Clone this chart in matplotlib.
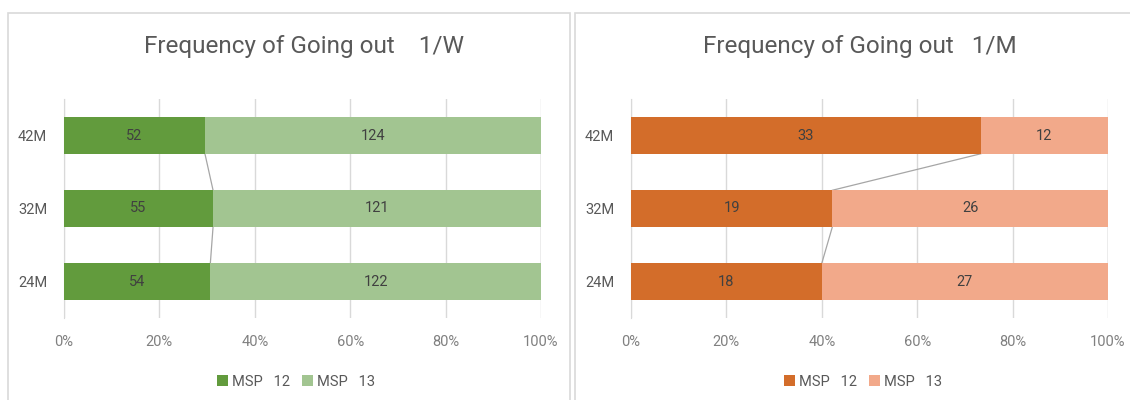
import numpy as np
import matplotlib
matplotlib.use("Agg")
import matplotlib.pyplot as plt
from matplotlib.patches import Rectangle
from matplotlib.ticker import FuncFormatter

plt.rcParams['font.family'] = ['Roboto', 'DejaVu Sans']

categories = ["24M", "32M", "42M"]
weekly_msp12 = [54, 55, 52]
weekly_msp13 = [122, 121, 124]
monthly_msp12 = [18, 19, 33]
monthly_msp13 = [27, 26, 12]
series_names = ["MSP   12", "MSP   13"]

W, H = 1130, 400
fig = plt.figure(figsize=(W / 100, H / 100), dpi=100)

TEXT = "#595959"
GRID = "#D9D9D9"


def panel(x0, x1, y0, y1):
    # light chart-area border like the spreadsheet export
    fig.patches.append(Rectangle((x0 / W, 1 - y1 / H), (x1 - x0) / W, (y1 - y0) / H,
                                 transform=fig.transFigure, fill=False,
                                 edgecolor=GRID, linewidth=1.2))


def draw(ax, a, b, title, c_dark, c_light, title_x):
    a = np.array(a, dtype=float)
    b = np.array(b, dtype=float)
    tot = a + b
    pa, pb = a / tot, b / tot
    y = np.arange(len(categories))
    h = 0.5
    ax.barh(y, pa, height=h, color=c_dark, label=series_names[0], zorder=3)
    ax.barh(y, pb, left=pa, height=h, color=c_light, label=series_names[1], zorder=3)
    for yi, p1, p2, v1, v2 in zip(y, pa, pb, a, b):
        ax.text(p1 / 2, yi, f"{int(v1)}", ha="center", va="center", fontsize=10.5, color="#404040", zorder=4)
        ax.text(p1 + p2 / 2, yi, f"{int(v2)}", ha="center", va="center", fontsize=10.5, color="#404040", zorder=4)
    # series lines between neighbouring bars
    for i in range(len(y) - 1):
        ax.plot([pa[i + 1], pa[i]], [y[i + 1] - h / 2, y[i] + h / 2], color="#A6A6A6", lw=0.9, zorder=2)
        ax.plot([1, 1], [y[i + 1] - h / 2, y[i] + h / 2], color="#A6A6A6", lw=0.9, zorder=2)
    ax.set_xlim(0, 1)
    ax.set_ylim(-0.5, len(y) - 0.5)
    ax.set_yticks(y)
    ax.set_yticklabels(categories)
    ax.set_xticks(np.linspace(0, 1, 6))
    ax.xaxis.set_major_formatter(FuncFormatter(lambda v, _: f"{v * 100:.0f}%"))
    ax.grid(axis="x", color=GRID, lw=1, zorder=0)
    for s in ["top", "right", "bottom"]:
        ax.spines[s].set_visible(False)
    ax.spines["left"].set_color(GRID)
    ax.tick_params(axis="both", length=0, colors="#808080", labelsize=10.5)
    ax.tick_params(axis="y", pad=12, labelcolor=TEXT)
    ax.tick_params(axis="x", pad=12)
    fig.text(title_x, 1 - 46 / H, title, ha="center", va="center", fontsize=17.5, color=TEXT)
    ax.legend(loc="upper center", bbox_to_anchor=(0.486, -0.2), ncol=2, frameon=False,
              fontsize=10.5, handlelength=0.75, handleheight=0.75, handletextpad=0.3,
              columnspacing=0.8, labelcolor=TEXT)


panel(8, 570, 13, 410)
panel(575, 1140, 13, 410)

ax1 = fig.add_axes([64 / W, 1 - 318 / H, (541 - 64) / W, (318 - 99) / H])
ax2 = fig.add_axes([631 / W, 1 - 318 / H, (1108 - 631) / W, (318 - 99) / H])

draw(ax1, weekly_msp12, weekly_msp13, "Frequency of Going out    1/W", "#629B3D", "#A2C591", 304 / W)
draw(ax2, monthly_msp12, monthly_msp13, "Frequency of Going out   1/M", "#D36D2A", "#F2A98A", 860 / W)

fig.savefig("out.png", dpi=100)
